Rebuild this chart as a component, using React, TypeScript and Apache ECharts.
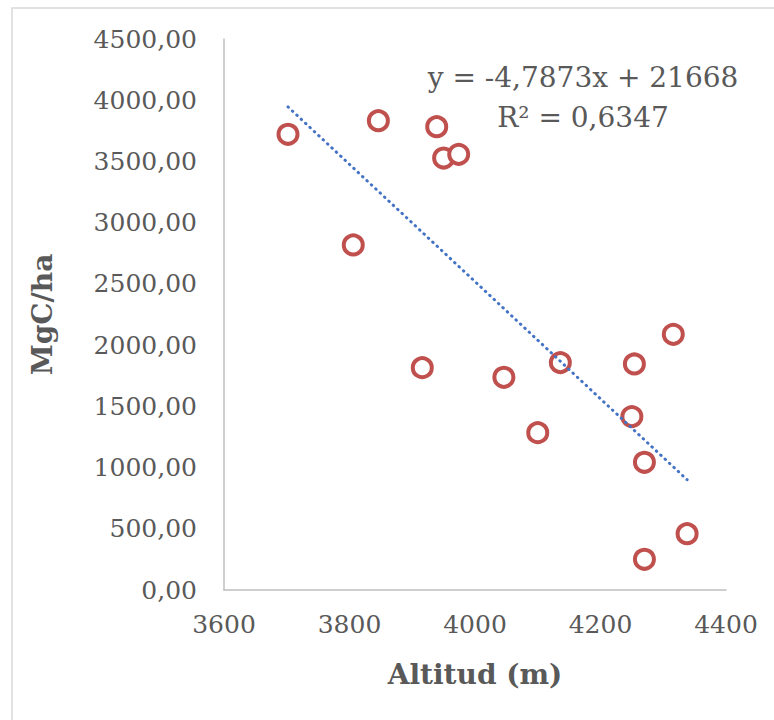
import React, { useEffect, useRef } from "react";
import * as echarts from "echarts";

const altitude = [3702, 3846, 3939, 3950, 3974, 3806, 3916, 4046, 4136, 4100, 4254, 4316, 4250, 4270, 4338, 4270];
const carbon = [3722, 3833, 3784, 3528, 3558, 2818, 1816, 1737, 1857, 1285, 1846, 2088, 1416, 1043, 460, 251];
const slope = -4.7873;
const intercept = 21668;
const equationText = "y = -4,7873x + 21668";
const r2Text = "R² = 0,6347";
const xTitle = "Altitud (m)";
const yTitle = "MgC/ha";

const FONT = "DejaVu Serif";
const TXT = "#595959";

export default function App() {
  const ref = useRef<HTMLDivElement>(null);
  useEffect(() => {
    if (!ref.current) return;
    const chart = echarts.init(ref.current, undefined, { renderer: "svg" });
    const points = altitude.map((x, i) => [x, carbon[i]]);
    const xMin = Math.min(...altitude);
    const xMax = Math.max(...altitude);
    const trend = [
      [xMin, slope * xMin + intercept],
      [xMax, slope * xMax + intercept],
    ];
    chart.setOption({
      animation: false,
      backgroundColor: "#ffffff",
      grid: { left: 224, right: 48, top: 39, bottom: 130 },
      xAxis: {
        type: "value",
        min: 3600,
        max: 4400,
        interval: 200,
        axisLine: { show: true, lineStyle: { color: "#BFBFBF", width: 1.5 } },
        axisTick: { show: false },
        splitLine: { show: false },
        axisLabel: {
          color: TXT,
          fontFamily: FONT,
          fontSize: 25,
          margin: 22,
          formatter: (v: number) => String(v),
        },
        name: xTitle,
        nameLocation: "middle",
        nameGap: 70,
        nameTextStyle: { color: TXT, fontFamily: FONT, fontSize: 28, fontWeight: "bold" },
      },
      yAxis: {
        type: "value",
        min: 0,
        max: 4500,
        interval: 500,
        axisLine: { show: true, lineStyle: { color: "#BFBFBF", width: 1.5 } },
        axisTick: { show: false },
        splitLine: { show: false },
        axisLabel: {
          color: TXT,
          fontFamily: FONT,
          fontSize: 25,
          margin: 27,
          formatter: (v: number) => v.toFixed(2).replace(".", ","),
        },
        name: yTitle,
        nameLocation: "middle",
        nameGap: 168,
        nameTextStyle: { color: TXT, fontFamily: FONT, fontSize: 28, fontWeight: "bold" },
      },
      graphic: [
        {
          type: "rect",
          shape: { x: 12, y: 8, width: 800, height: 800 },
          style: { fill: "none", stroke: "#D9D9D9", lineWidth: 1.5 },
          silent: true,
        },
        {
          type: "text",
          x: 583,
          y: 77,
          style: { text: equationText, fill: TXT, font: `28px "${FONT}"`, align: "center", verticalAlign: "middle" },
        },
        {
          type: "text",
          x: 583,
          y: 117,
          style: { text: r2Text, fill: TXT, font: `28px "${FONT}"`, align: "center", verticalAlign: "middle" },
        },
      ],
      series: [
        {
          type: "scatter",
          data: points,
          symbol: "circle",
          symbolSize: 19,
          itemStyle: { color: "#ffffff", borderColor: "#C0504D", borderWidth: 4, opacity: 1 },
          z: 2,
        },
        {
          type: "line",
          data: trend,
          symbol: "none",
          lineStyle: { color: "#4472C4", width: 3, type: [0.5, 5.5], cap: "round" },
          z: 3,
        },
      ],
    });
    return () => chart.dispose();
  }, []);
  return (
    <div
      ref={ref}
      style={{ position: "fixed", left: 0, top: 0, width: 774, height: 720 }}
    />
  );
}
